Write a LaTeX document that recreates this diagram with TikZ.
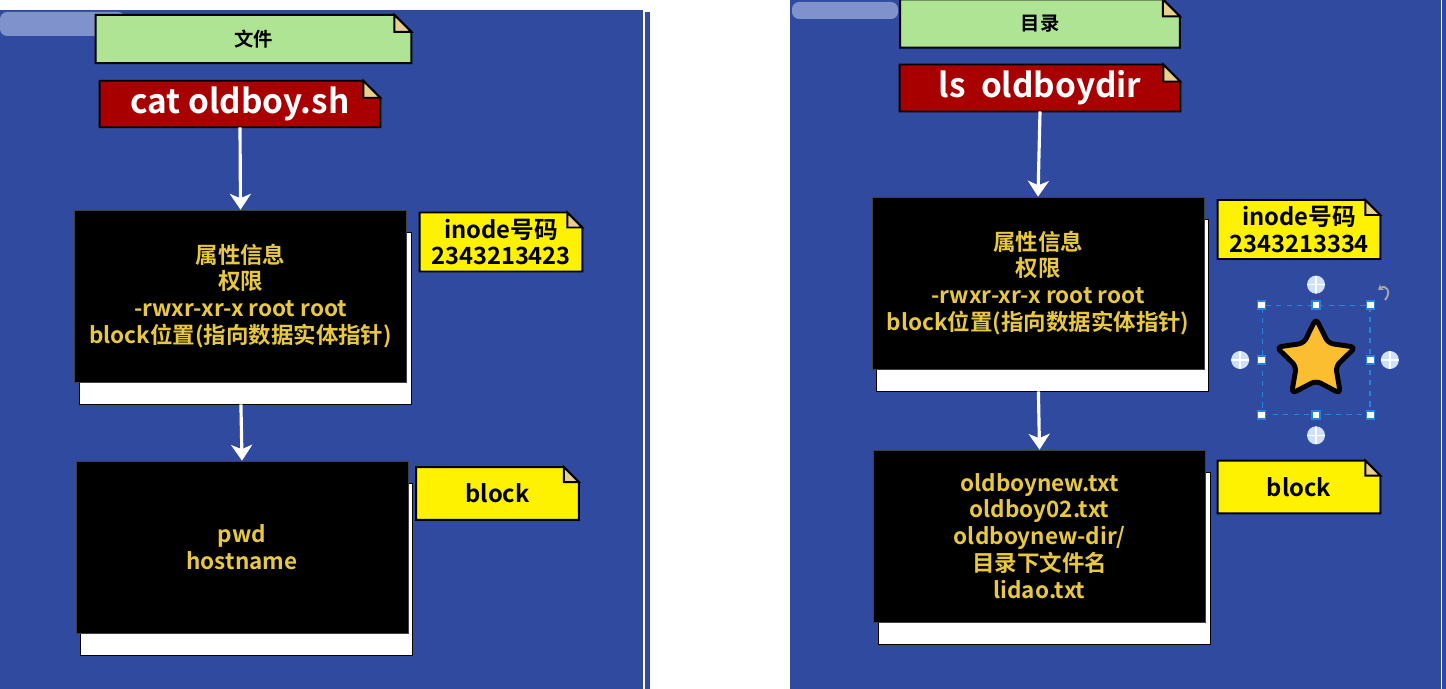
\documentclass[tikz,border=0pt]{standalone}
\usepackage{fontspec}
\setmainfont{Noto Sans CJK SC}[BoldFont={Noto Sans CJK SC Bold}]
\usetikzlibrary{positioning, arrows.meta, shadows, shapes.geometric, backgrounds}

\definecolor{panelblue}{RGB}{48,74,160}
\definecolor{blurblue}{RGB}{128,146,204}
\definecolor{notegreen}{RGB}{174,228,148}
\definecolor{cmdred}{RGB}{168,0,0}
\definecolor{infogold}{RGB}{232,200,64}
\definecolor{foldtan}{RGB}{232,208,140}
\definecolor{starorange}{RGB}{251,190,48}
\definecolor{selblue}{RGB}{40,130,220}
\definecolor{plusblue}{RGB}{205,225,250}

\tikzset{
  title/.style={minimum width=6.3cm, minimum height=0.95cm, font=\bfseries\fontsize{11}{13}\selectfont},
  cmd/.style={minimum width=5.6cm, minimum height=0.88cm, text=white, font=\bfseries\fontsize{19}{22}\selectfont},
  info/.style={fill=black, draw=black!75, minimum width=6.64cm, minimum height=3.44cm, text=infogold, align=center,
    font=\bfseries\fontsize{12.8}{15.3}\selectfont,
    general shadow={fill=white, draw=black, shadow xshift=0.09cm, shadow yshift=-0.44cm}},
  tag/.style={minimum width=3.24cm, minimum height=1.04cm, align=center, font=\bfseries\fontsize{13.5}{15.3}\selectfont},
  flow/.style={white, line width=1.8pt, -{Stealth[length=9pt, width=12pt, inset=2.5pt]}},
  handle/.style={draw=selblue, fill=white, line width=0.6pt, minimum size=0.16cm, inner sep=0pt},
  plus/.style={circle, fill=plusblue, minimum size=0.36cm, inner sep=0pt,
    path picture={\draw[white, line width=0.9pt]
      (path picture bounding box.north) -- (path picture bounding box.south)
      (path picture bounding box.west) -- (path picture bounding box.east);}},
}

\newcommand\foldnote[3]{%
  \begin{scope}[on background layer]
  \draw[line width=1.1pt, fill=#2] (#1.south west) -- (#1.north west) -- ([xshift=-#3]#1.north east)
    -- ([yshift=-#3]#1.north east) -- (#1.south east) -- cycle;
  \draw[line width=1.1pt, fill=foldtan] ([xshift=-#3]#1.north east) |- ([yshift=-#3]#1.north east) -- cycle;
  \end{scope}}

\begin{document}
\begin{tikzpicture}[x=0.02cm, y=-0.02cm]
\useasboundingbox (0,0) rectangle (1446,689);

\begin{scope}[on background layer]
\fill[panelblue] (0,10) rectangle (643,689);
\fill[panelblue] (644.5,12) rectangle (650,689);
\fill[panelblue] (790,0) rectangle (1446,689);
\draw[white, line width=0.8pt] (1441.5,0) -- (1441.5,689);
\fill[blurblue, rounded corners=4pt] (0,12) rectangle (125,36);
\fill[blurblue, rounded corners=4pt] (792,2) rectangle (898,19);
\end{scope}

\node[title] (file) at (253.5,39) {文件};
\node[cmd] (cmd1) at (240,104) {cat oldboy.sh};
\node[info] (inode1) at (240.5,296) {属性信息\\权限\\-rwxr-xr-x root root\\block位置(指向数据实体指针)};
\node[tag] (num1) at (501,242) {inode号码\\2343213423};
\node[info] (data1) at (242,547) {pwd\\hostname};
\node[tag] (blk1) at (497.5,493.5) {block};

\node[title, minimum width=5.58cm] (dir) at (1040,23.5) {目录};
\node[cmd] (cmd2) at (1040,88) {ls~ oldboydir};
\node[info] (inode2) at (1038,283) {属性信息\\权限\\-rwxr-xr-x root root\\block位置(指向数据实体指针)};
\node[tag] (num2) at (1299,229.5) {inode号码\\2343213334};
\node[info] (data2) at (1039.5,536) {oldboynew.txt\\oldboy02.txt\\oldboynew-dir/\\目录下文件名\\lidao.txt};
\node[tag] (blk2) at (1299,487) {block};

\foldnote{file}{notegreen}{0.34cm}
\foldnote{cmd1}{cmdred}{0.34cm}
\foldnote{num1}{yellow}{0.3cm}
\foldnote{blk1}{yellow}{0.3cm}
\foldnote{dir}{notegreen}{0.34cm}
\foldnote{cmd2}{cmdred}{0.34cm}
\foldnote{num2}{yellow}{0.3cm}
\foldnote{blk2}{yellow}{0.3cm}

\draw[flow] (cmd1.south) -- (inode1.north);
\draw[flow, shorten <=0.44cm] (inode1.south) -- (data1.north);
\draw[flow] (cmd2.south) -- (inode2.north);
\draw[flow, shorten <=0.44cm] (inode2.south) -- (data2.north);

\node[star, star points=5, star point ratio=2.0, fill=starorange, draw=black, line width=2.8pt,
  rounded corners=3pt, minimum size=1.66cm, inner sep=0pt] (star) at (1316,360) {};
\node[draw=selblue, dashed, line width=0.6pt, minimum width=2.16cm, minimum height=2.18cm] (sel) at (star) {};
\foreach \a/\n in {north west/1, north/2, north east/3, east/4, south east/5, south/6, south west/7, west/8}
  \node[handle] (h\n) at (sel.\a) {};
\node[plus, above=0.22cm of sel.north] (p1) {};
\node[plus, below=0.22cm of sel.south] (p2) {};
\node[plus, left=0.24cm of sel.west] (p3) {};
\node[plus, right=0.2cm of sel.east] (p4) {};
\draw[black!35, line width=1.1pt, {Stealth[length=3pt, width=4pt]}-] (1378,290) .. controls (1386,284) and (1392,292) .. (1385,300);
\end{tikzpicture}
\end{document}
